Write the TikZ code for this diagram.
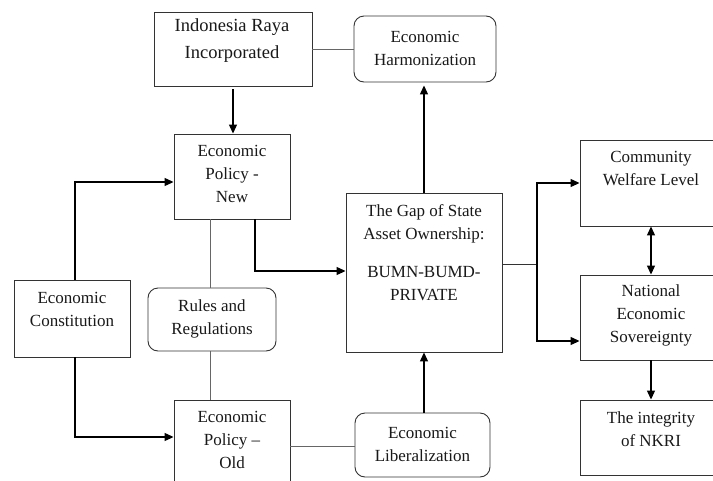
\documentclass[tikz,border=0pt]{standalone}
\usepackage{fontspec}
\setmainfont{Liberation Serif}
\usetikzlibrary{arrows.meta,calc}
\begin{document}
\begin{tikzpicture}[x=1pt,y=-1pt,
 box/.style={draw=black!80, line width=0.9pt, rectangle, inner sep=0pt},
 rbox/.style={box, rounded corners=10pt},
 txt/.style={align=center, font=\fontsize{17}{23}\selectfont, inner sep=0pt, text=black!90},
 ln/.style={draw=black!60, line width=0.9pt},
 arr/.style={draw=black, line width=1.2pt, -{Triangle[length=9pt,width=8pt]}},
 darr/.style={draw=black, line width=1.2pt, {Triangle[length=9pt,width=8pt]}-{Triangle[length=9pt,width=8pt]}},
]
\useasboundingbox (0,0) rectangle (713,480);
\clip (0,0) rectangle (713,480);
\fill[white] (0,0) rectangle (713,480);

% boxes
\node[box, minimum width=158, minimum height=74] (IRI) at (233,49) {};
\node[rbox, minimum width=142, minimum height=66] (Harm) at (425,49) {};
\node[box, minimum width=116, minimum height=85] (PolNew) at (232,176.5) {};
\node[box, minimum width=116, minimum height=77] (Const) at (72,318.5) {};
\node[rbox, minimum width=128, minimum height=63] (Rules) at (212,319.5) {};
\node[box, minimum width=156, minimum height=159] (Gap) at (424,272.5) {};
\node[box, minimum width=142, minimum height=86] (Comm) at (651,183) {};
\node[box, minimum width=142, minimum height=85] (Nat) at (651,317.5) {};
\node[box, minimum width=142, minimum height=75] (Integ) at (651,437.5) {};
\node[box, minimum width=116, minimum height=90] (PolOld) at (232,445) {};
\node[rbox, minimum width=135, minimum height=64] (Lib) at (422.5,445) {};

% texts
\node[txt, font=\fontsize{18.5}{27}\selectfont] (tIRI) at (232,41) {Indonesia Raya\\Incorporated};
\node[txt] (tHarm) at (425,48) {Economic\\Harmonization};
\node[txt] (tPolNew) at (232,174) {Economic\\Policy -\\New};
\node[txt] (tConst) at (72,309) {Economic\\Constitution};
\node[txt] (tRules) at (212,319) {Rules and\\Regulations};
\node[txt] (tGap) at (424,253) {The Gap of State\\Asset Ownership:\\[15pt]BUMN-BUMD-\\PRIVATE};
\node[txt] (tComm) at (651,168) {Community\\Welfare Level};
\node[txt] (tNat) at (651,315) {National\\Economic\\Sovereignty};
\node[txt] (tInteg) at (651,429) {The integrity\\of NKRI};
\node[txt] (tPolOld) at (232,440) {Economic\\Policy --\\Old};
\node[txt] (tLib) at (422.5,444) {Economic\\Liberalization};

% coordinates
\coordinate (j) at (537,264);

% connectors
\draw[ln] (IRI.east) -- (Harm.west);
\draw[arr, shorten <=3pt] (IRI.south) -- (IRI.south |- PolNew.north);
\draw[arr] ([xshift=3pt]Const.north) |- ([yshift=-5.5pt]PolNew.west);
\draw[ln] ([xshift=-22pt]PolNew.south) -- ([xshift=-22pt]PolNew.south |- Rules.north);
\draw[ln] ([xshift=-2pt]Rules.south) -- ([xshift=-2pt]Rules.south |- PolOld.north);
\draw[arr] ([xshift=23pt]PolNew.south) |- ([yshift=1.5pt]Gap.west);
\draw[arr, shorten >=3pt] (Gap.north) -- (Gap.north |- Harm.south);
\draw[ln, draw=black!80] (Gap.east |- j) -- (j);
\draw[arr] (j) |- (Comm.west);
\draw[arr] (j) |- ([yshift=-23.5pt]Nat.west);
\draw[darr] (Comm.south) -- (Nat.north);
\draw[arr] (Nat.south) -- (Integ.north);
\draw[arr] ([xshift=3pt]Const.south) |- ([yshift=8pt]PolOld.west);
\draw[ln] ([yshift=-1pt]PolOld.east) -- ([yshift=-1pt]Lib.west);
\draw[arr] ([xshift=1.5pt]Lib.north) -- ([xshift=1.5pt]Lib.north |- Gap.south);
\end{tikzpicture}
\end{document}
